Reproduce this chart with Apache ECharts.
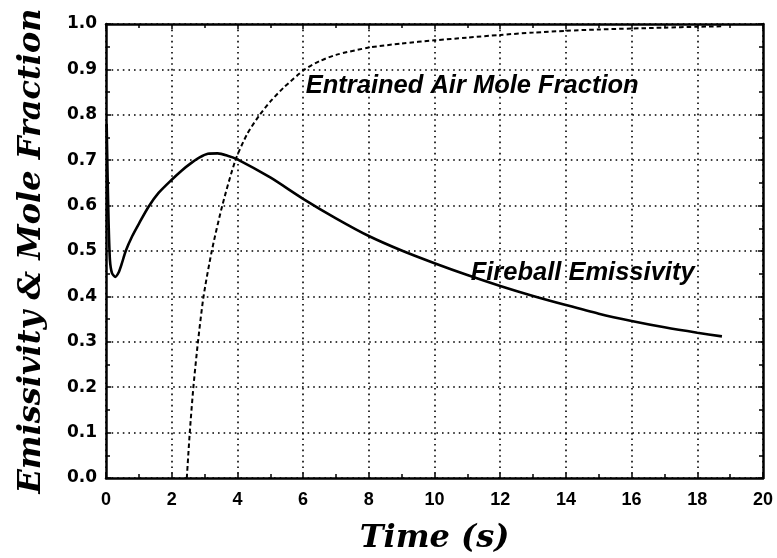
<!DOCTYPE html>
<html>
<head>
<meta charset="utf-8">
<script src="https://cdn.jsdelivr.net/npm/echarts@6/dist/echarts.min.js"></script>
<style>
  html, body { margin: 0; padding: 0; background: #fff; }
  #chart { width: 777px; height: 558px; }
</style>
</head>
<body>
<div id="chart"></div>
<script>
// time (s), value pairs
var emissivity = [
  [0.02, 0.78], [0.05, 0.66], [0.08, 0.56], [0.12, 0.48], [0.18, 0.452], [0.28, 0.443],
  [0.38, 0.452], [0.48, 0.472], [0.6, 0.5], [0.8, 0.533], [1.0, 0.56], [1.3, 0.598],
  [1.6, 0.628], [2.0, 0.657], [2.3, 0.677], [2.6, 0.694], [2.85, 0.706], [3.1, 0.714],
  [3.4, 0.715], [3.7, 0.71], [4.0, 0.702], [5.0, 0.662], [6.0, 0.615], [7.0, 0.572],
  [8.0, 0.533], [9.0, 0.501], [10.0, 0.473], [11.0, 0.447], [12.0, 0.423], [13.0, 0.401],
  [14.0, 0.381], [15.0, 0.362], [16.0, 0.346], [17.0, 0.332], [18.0, 0.32], [18.75, 0.312]
];
var airFraction = [
  [2.46, 0.0], [2.55, 0.1], [2.66, 0.2], [2.8, 0.3], [2.97, 0.4], [3.22, 0.5],
  [3.54, 0.6], [3.94, 0.7], [4.3, 0.758], [4.68, 0.8], [5.0, 0.829], [5.41, 0.86],
  [6.05, 0.9], [6.5, 0.918], [7.0, 0.932], [8.0, 0.948], [9.0, 0.957],
  [10.0, 0.964], [11.0, 0.97], [12.0, 0.976], [13.0, 0.981], [14.0, 0.985],
  [15.0, 0.988], [16.0, 0.99], [17.0, 0.992], [18.0, 0.994], [18.8, 0.995]
];
var annotations = [
  { name: 'Entrained Air Mole Fraction', value: [6.08, 0.864] },
  { name: 'Fireball Emissivity', value: [11.1, 0.451] }
];
var xTitle = 'Time (s)';
var yTitle = 'Emissivity & Mole Fraction';

var chart = echarts.init(document.getElementById('chart'));

var gridDots = { color: '#000', width: 1.6, type: [1.6, 4] };
var titleStyle = { color: '#000', fontSize: 32, fontWeight: 'bold', fontStyle: 'italic', fontFamily: 'DejaVu Serif' };

function frameAxis(pos, isX, main) {
  return {
    type: 'value',
    position: pos,
    min: 0,
    max: isX ? 20 : 1,
    interval: isX ? 2 : 0.1,
    name: main ? (isX ? xTitle : yTitle) : '',
    nameLocation: 'middle',
    nameGap: isX ? 45 : 58,
    nameTextStyle: titleStyle,
    axisLine: { show: true, onZero: false, lineStyle: { color: '#000', width: 2.5 } },
    axisTick: { show: true, inside: true, length: 5, lineStyle: { color: '#000', width: 1.5 } },
    minorTick: { show: true, splitNumber: 2, length: 4, lineStyle: { color: '#000', width: 1.5 } },
    axisLabel: main ? {
      show: true,
      margin: isX ? 13 : 9,
      color: '#000',
      fontWeight: 'bold',
      fontSize: isX ? 18 : 17,
      fontFamily: isX ? 'Liberation Sans' : 'DejaVu Sans',
      formatter: function (v) { return isX ? String(v) : v.toFixed(1); }
    } : { show: false },
    splitLine: { show: main, lineStyle: gridDots }
  };
}

var option = {
  backgroundColor: '#fff',
  animation: false,
  grid: { left: 106, right: 14, top: 24, bottom: 80, outerBoundsMode: 'none' },
  xAxis: [frameAxis('bottom', true, true), frameAxis('top', true, false)],
  yAxis: [frameAxis('left', false, true), frameAxis('right', false, false)],
  series: [
    {
      name: 'Fireball Emissivity',
      type: 'line',
      data: emissivity,
      showSymbol: false,
      smooth: 0.25,
      lineStyle: { color: '#000', width: 2.6 }
    },
    {
      name: 'Entrained Air Mole Fraction',
      type: 'line',
      data: airFraction,
      showSymbol: false,
      smooth: 0.25,
      lineStyle: { color: '#000', width: 2, type: [4.5, 3] }
    },
    {
      type: 'scatter',
      data: annotations,
      symbolSize: 0,
      silent: true,
      itemStyle: { opacity: 1 },
      label: {
        show: true,
        position: 'right',
        distance: 0,
        formatter: '{b}',
        color: '#000',
        opacity: 1,
        fontSize: 25.5,
        fontWeight: 'bold',
        fontStyle: 'italic',
        fontFamily: 'Liberation Sans'
      }
    }
  ]
};

chart.setOption(option);
window.addEventListener('resize', function () {
  chart.resize();
});
</script>
</body>
</html>
